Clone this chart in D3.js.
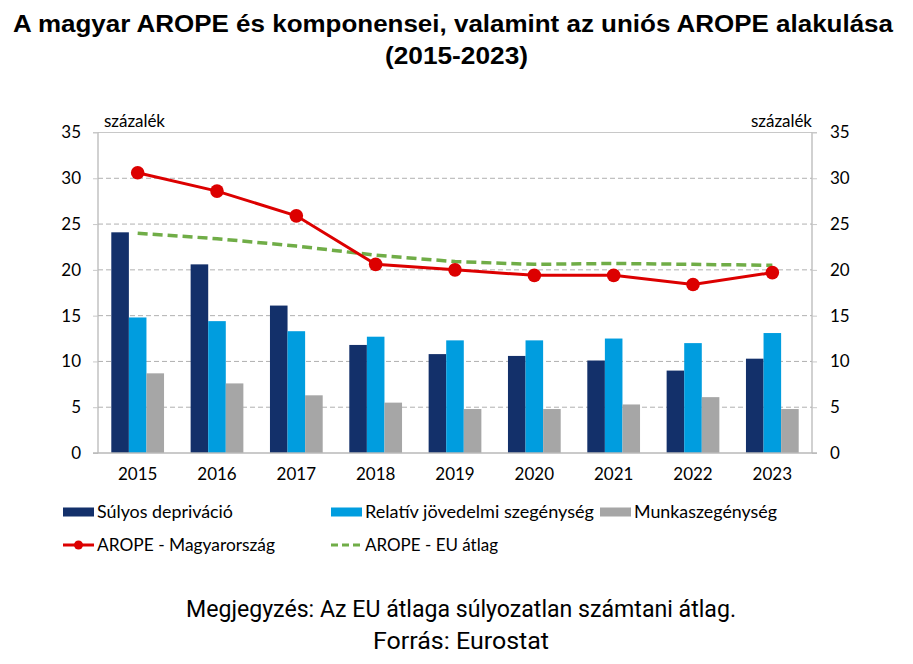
<!DOCTYPE html>
<html><head><meta charset="utf-8">
<script src="https://cdn.jsdelivr.net/npm/d3@7"></script>
<style>
html,body{margin:0;padding:0;background:#fff;}
svg{display:block;}
</style></head>
<body>
<svg id="c" width="913" height="664"></svg>
<script>
const years = ["2015","2016","2017","2018","2019","2020","2021","2022","2023"];
const deprivation = [24.1, 20.6, 16.1, 11.8, 10.8, 10.6, 10.1, 9.0, 10.3];
const incomePoverty = [14.8, 14.4, 13.3, 12.7, 12.3, 12.3, 12.5, 12.0, 13.1];
const workPoverty = [8.7, 7.6, 6.3, 5.5, 4.8, 4.8, 5.3, 6.1, 4.8];
const aropeHU = [30.6, 28.6, 25.9, 20.6, 20.0, 19.4, 19.4, 18.4, 19.7];
const aropeEU = [24.0, 23.4, 22.6, 21.6, 20.9, 20.6, 20.7, 20.6, 20.5];
const yTicks = [0,5,10,15,20,25,30,35];
const barSeries = ["Súlyos depriváció","Relatív jövedelmi szegénység","Munkaszegénység"];
const lineSeries = ["AROPE - Magyarország","AROPE - EU átlag"];
const titleLines = ["A magyar AROPE és komponensei, valamint az uniós AROPE alakulása","(2015-2023)"];
const unitLabel = "százalék";
const notes = ["Megjegyzés: Az EU átlaga súlyozatlan számtani átlag.","Forrás: Eurostat"];

const colors = {dep:"#13306a", inc:"#009ddf", work:"#a6a6a6", hu:"#dc0000", eu:"#70ad47"};
const svg = d3.select("#c");
const L = 98, R = 812, T = 132.5, B = 453;
const font = "Lato, 'Open Sans', sans-serif";

const x = d3.scaleBand().domain(years).range([L, R]);
const inner = d3.scaleBand().domain([0,1,2]).range([13.3, x.bandwidth()-13.3]);
const y = d3.scaleLinear().domain([0,35]).range([B, T]);

// title
const titleFit = [{cx:453, y:32, w:880},{cx:456.5, y:63.5, w:143}];
titleLines.forEach((t,i)=>{
  svg.append("text").attr("x",titleFit[i].cx).attr("y", titleFit[i].y)
    .attr("text-anchor","middle").attr("font-family","'Liberation Sans', Arial, sans-serif")
    .attr("font-weight","bold").attr("font-size",23.5).attr("fill","#000")
    .attr("textLength",titleFit[i].w).attr("lengthAdjust","spacingAndGlyphs").text(t);
});

// gridlines
const grid = svg.append("g");
yTicks.filter(v=>v>0 && v<35).forEach(v=>{
  grid.append("line").attr("x1",L).attr("x2",R).attr("y1",y(v)).attr("y2",y(v))
    .attr("stroke","#b0b0b0").attr("stroke-width",1).attr("stroke-dasharray","5,3");
});
grid.append("line").attr("x1",L-5).attr("x2",R+5).attr("y1",y(35)).attr("y2",y(35)).attr("stroke","#c8c8c8").attr("stroke-width",1);

// axes
const axL = d3.axisLeft(y).tickValues(yTicks).tickSize(5).tickPadding(12);
const axR = d3.axisRight(y).tickValues(yTicks).tickSize(5).tickPadding(13);
const gl = svg.append("g").attr("transform",`translate(${L},0)`).call(axL);
const gr = svg.append("g").attr("transform",`translate(${R},0)`).call(axR);
[gl,gr].forEach(g=>{
  g.select(".domain").attr("stroke","#b8b8b8").attr("stroke-width",1.3).attr("d", `M0,${T}V${B}`);
  g.selectAll(".tick line").attr("stroke","#c8c8c8");
  g.selectAll(".tick text").attr("font-family",font).attr("font-size",17).attr("fill","#000");
});

// bars
const data = years.map((yr,i)=>({yr, vals:[deprivation[i], incomePoverty[i], workPoverty[i]]}));
const bc = [colors.dep, colors.inc, colors.work];
const gb = svg.append("g");
data.forEach(d=>{
  d.vals.forEach((v,j)=>{
    gb.append("rect").attr("x", x(d.yr)+inner(j)).attr("width", inner.bandwidth())
      .attr("y", y(v)).attr("height", y(0)-y(v)).attr("fill", bc[j]);
  });
});

// x axis
const ax = d3.axisBottom(x).tickSize(0).tickPadding(15);
const gx = svg.append("g").attr("transform",`translate(0,${B})`).call(ax);
gx.select(".domain").remove();
gx.append("line").attr("x1",L-5).attr("x2",R+5).attr("stroke","#b8b8b8").attr("stroke-width",1.3);
gx.selectAll(".tick text").attr("font-family",font).attr("font-size",17).attr("fill","#000");

// lines
const cx = d=>x(d)+x.bandwidth()/2;
const lineGen = d3.line().x(d=>cx(d.yr)).y(d=>y(d.v));
const euData = years.map((yr,i)=>({yr, v:aropeEU[i]}));
const huData = years.map((yr,i)=>({yr, v:aropeHU[i]}));
svg.append("path").datum(euData).attr("d",lineGen).attr("fill","none")
  .attr("stroke",colors.eu).attr("stroke-width",3.5).attr("stroke-dasharray","10,5");
svg.append("path").datum(huData).attr("d",lineGen).attr("fill","none")
  .attr("stroke",colors.hu).attr("stroke-width",3);
svg.append("g").selectAll("circle").data(huData).join("circle")
  .attr("cx",d=>cx(d.yr)).attr("cy",d=>y(d.v)).attr("r",6.8).attr("fill",colors.hu);

// unit labels
svg.append("text").attr("x",104).attr("y",127).attr("font-family",font).attr("font-size",17).attr("textLength",61).text(unitLabel);
svg.append("text").attr("x",812).attr("y",127).attr("text-anchor","end").attr("font-family",font).attr("font-size",17).attr("textLength",61).text(unitLabel);

// legend
const lg = svg.append("g").attr("font-family",font).attr("font-size",17);
const items = [
  {t:barSeries[0], type:"bar", c:colors.dep, x:63, y:512, w:136},
  {t:barSeries[1], type:"bar", c:colors.inc, x:331, y:512, w:229},
  {t:barSeries[2], type:"bar", c:colors.work, x:600, y:512, w:143},
  {t:lineSeries[0], type:"hu", c:colors.hu, x:63, y:545, w:178},
  {t:lineSeries[1], type:"eu", c:colors.eu, x:331, y:545, w:133}
];
items.forEach(it=>{
  if(it.type==="bar") lg.append("rect").attr("x",it.x).attr("y",it.y-4.5).attr("width",31).attr("height",9).attr("fill",it.c);
  else if(it.type==="hu"){
    lg.append("line").attr("x1",it.x).attr("x2",it.x+31).attr("y1",it.y).attr("y2",it.y).attr("stroke",it.c).attr("stroke-width",3);
    lg.append("circle").attr("cx",it.x+15.5).attr("cy",it.y).attr("r",4.5).attr("fill",it.c);
  } else {
    lg.append("line").attr("x1",it.x).attr("x2",it.x+31).attr("y1",it.y).attr("y2",it.y).attr("stroke",it.c).attr("stroke-width",3).attr("stroke-dasharray","7,4");
  }
  lg.append("text").attr("x",it.x+34).attr("y",it.y+6).attr("textLength",it.w).attr("lengthAdjust","spacingAndGlyphs").text(it.t);
});

// notes
const noteFit = [{y:617, w:550},{y:649, w:176}];
notes.forEach((n,i)=>{
  svg.append("text").attr("x",461).attr("y", noteFit[i].y).attr("text-anchor","middle")
    .attr("font-family","Roboto, 'Liberation Sans', sans-serif").attr("font-size",23).attr("fill","#000")
    .attr("textLength",noteFit[i].w).attr("lengthAdjust","spacingAndGlyphs").text(n);
});
</script>
</body></html>
